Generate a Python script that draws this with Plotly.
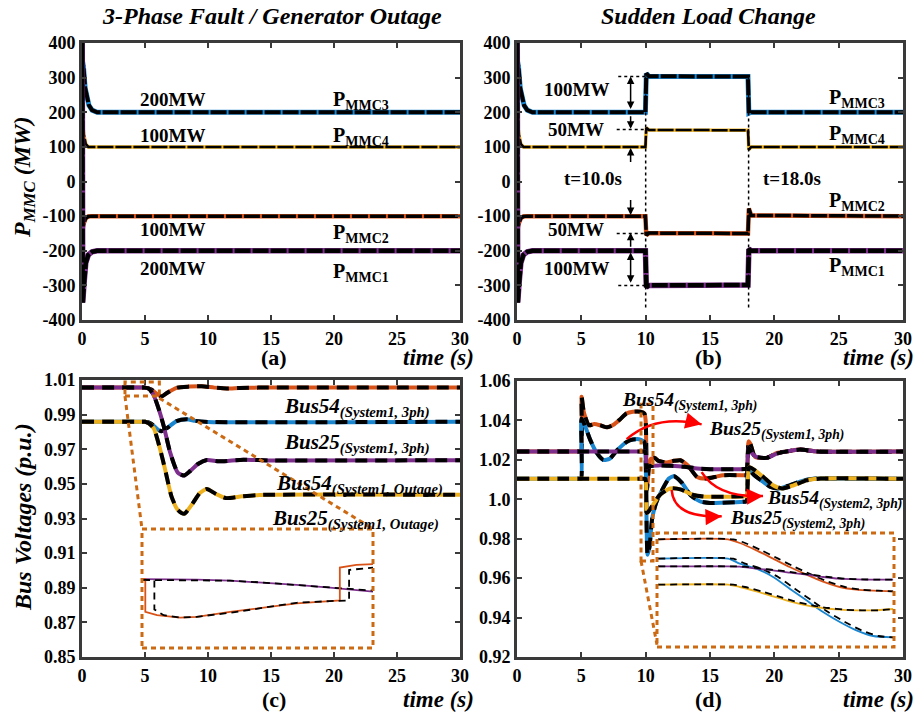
import plotly.graph_objects as go

# ---------------- (a) MMC power, 3-phase fault / generator outage ----------------
a_t3 = [0.0, 0.05, 0.12, 0.25, 0.4, 0.55, 0.8, 1.2, 30.0]
a_p3 = [0, 345, 330, 270, 240, 220, 206, 200, 200]
a_t4 = [0.0, 0.05, 0.15, 0.3, 0.5, 30.0]
a_p4 = [0, 165, 135, 108, 100, 100]
a_t2 = [0.0, 0.05, 0.15, 0.3, 0.5, 0.8, 30.0]
a_p2 = [0, -135, -120, -106, -101, -100, -100]
a_t1 = [0.0, 0.02, 0.06, 0.15, 0.3, 0.5, 0.8, 1.2, 30.0]
a_p1 = [0, 400, -350, -300, -235, -212, -203, -200, -200]

# ---------------- (b) MMC power, sudden load change ----------------
b_t3 = [0.0, 0.05, 0.12, 0.25, 0.4, 0.55, 0.8, 1.2, 9.98, 10.05, 10.25, 17.95, 18.02, 18.2, 30.0]
b_p3 = [0, 345, 330, 270, 240, 220, 206, 200, 200, 312, 304, 303, 197, 200, 200]
b_t4 = [0.0, 0.05, 0.15, 0.3, 0.5, 9.98, 10.05, 10.25, 17.95, 18.02, 18.2, 30.0]
b_p4 = [0, 165, 135, 108, 100, 100, 155, 149, 148, 92, 100, 100]
b_t2 = [0.0, 0.05, 0.15, 0.3, 0.5, 0.8, 9.98, 10.05, 10.25, 17.95, 18.02, 18.2, 30.0]
b_p2 = [0, -135, -120, -106, -101, -100, -100, -155, -149, -150, -78, -98, -100]
b_t1 = [0.0, 0.02, 0.06, 0.15, 0.3, 0.5, 0.8, 1.2, 9.98, 10.05, 10.25, 17.95, 18.02, 18.2, 30.0]
b_p1 = [0, 400, -350, -300, -235, -212, -203, -200, -200, -305, -300, -299, -195, -200, -200]

# ---------------- (c) bus voltages, fault / outage ----------------
c_t54 = [0, 4.7, 5.0, 5.5, 6.0, 6.3, 6.8, 7.5, 8.5, 9.5, 10.5, 11.5, 12.5, 14, 30]
c_v54 = [1.0056, 1.0056, 1.0056, 1.0045, 1.0016, 1.0005, 1.0028, 1.0055, 1.0062, 1.0064, 1.0056, 1.0051, 1.0054, 1.0056, 1.0056]
c_t25 = [0, 4.7, 5.0, 5.5, 6.0, 6.3, 6.8, 7.5, 8.3, 9.0, 10.0, 30]
c_v25 = [0.9859, 0.9859, 0.9859, 0.9848, 0.9815, 0.9804, 0.9825, 0.9862, 0.9873, 0.9864, 0.9858, 0.9859]
c_t54o = [0, 4.7, 5.0, 5.3, 5.7, 6.1, 6.5, 7.0, 7.6, 8.1, 8.6, 9.2, 9.9, 10.9, 12.8, 15, 30]
c_v54o = [1.0056, 1.0056, 1.0056, 1.0050, 1.0010, 0.9930, 0.9830, 0.9680, 0.9565, 0.9548, 0.9575, 0.9615, 0.9638, 0.9630, 0.9640, 0.9635, 0.9637]
c_t25o = [0, 4.7, 5.0, 5.3, 5.7, 6.2, 6.6, 7.1, 7.6, 8.1, 8.8, 9.35, 9.9, 10.6, 11.4, 12.7, 14.1, 30]
c_v25o = [0.9859, 0.9859, 0.9859, 0.9850, 0.9820, 0.9700, 0.9582, 0.9428, 0.9350, 0.9327, 0.9389, 0.9447, 0.9470, 0.9443, 0.9418, 0.9428, 0.9436, 0.9437]

# zoomed detail of (c): bus 54 around the fault instant
ic_t54 = [4.9806, 4.982, 4.982, 4.9891, 5.0032, 5.0132, 5.0334, 5.0535, 5.0737, 5.0938, 5.0999, 5.0999, 5.1099, 5.12]
ic_v54 = [1.00378, 1.00378, 1.00104, 1.00076, 1.00056, 1.00062, 1.00104, 1.00141, 1.00175, 1.00194, 1.00200, 1.00476, 1.00499, 1.00504]
ic_t54_emt = [4.9806, 4.9875, 4.9875, 4.9931, 5.0032, 5.0132, 5.0334, 5.0535, 5.0737, 5.0938, 5.1055, 5.1055, 5.1140, 5.12]
ic_v54_emt = [1.00372, 1.00372, 1.00124, 1.00076, 1.00056, 1.00062, 1.00096, 1.00141, 1.00180, 1.00194, 1.00200, 1.00456, 1.00470, 1.00476]
ic_t54o = [4.9806, 5.0132, 5.0334, 5.0535, 5.0737, 5.0938, 5.12]
ic_v54o = [1.00378, 1.00375, 1.00366, 1.00349, 1.00330, 1.00307, 1.00273]
ic_v54o_emt = [1.00372, 1.00372, 1.00366, 1.00350, 1.00330, 1.00305, 1.00282]

# ---------------- (d) bus voltages, sudden load change ----------------
d_t54 = [0, 4.8, 4.98, 5.02, 5.2, 5.6, 6.0, 6.5, 7.0, 7.5, 8.0, 8.5, 9.0, 9.6, 9.9, 10.0, 10.1, 10.25, 10.4, 10.7, 11.0,
         11.6, 12.2, 12.7, 13.3, 14.0, 14.7, 15.5, 16.0, 17.7, 17.85, 18.0, 18.15, 18.5, 19.4, 20.2, 21.0, 22.0, 23.3, 30]
d_v54 = [1.0242, 1.0242, 1.0242, 1.052, 1.044, 1.0375, 1.0382, 1.0375, 1.0365, 1.0378, 1.0405, 1.0435, 1.0444, 1.0444,
         1.0435, 1.040, 1.005, 1.016, 1.0205, 1.021, 1.0195, 1.0187, 1.0195, 1.0198, 1.017, 1.0113, 1.0105, 1.0115,
         1.0122, 1.0122, 1.0122, 1.0294, 1.028, 1.0215, 1.021, 1.0235, 1.0243, 1.0252, 1.0243, 1.0242]
d_t25 = [0, 4.8, 4.98, 5.02, 5.3, 5.7, 6.2, 6.7, 7.2, 7.8, 8.5, 9.0, 9.6, 9.9, 10.0, 10.15, 10.3, 10.5, 10.8, 11.3, 11.8,
         12.2, 12.8, 13.5, 14.2, 15.0, 17.0, 17.7, 17.85, 18.0, 18.4, 19.0, 19.7, 20.4, 21.2, 22.3, 23.3, 24.0, 30]
d_v25 = [1.0104, 1.0104, 1.0104, 1.041, 1.037, 1.030, 1.0235, 1.020, 1.0205, 1.025, 1.029, 1.0303, 1.0303, 1.029, 1.020,
         0.9718, 0.976, 0.990, 0.998, 1.005, 1.0105, 1.0117, 1.0085, 1.002, 0.9990, 0.9981, 0.9985, 0.9988, 0.9989,
         1.0150, 1.0125, 1.0095, 1.0063, 1.0055, 1.0071, 1.0096, 1.0105, 1.0106, 1.0104]
d_t54s2 = [0, 9.8, 9.98, 10.08, 10.3, 11.0, 12.0, 13.0, 14.0, 15.0, 17.7, 17.85, 18.0, 18.3, 18.6, 19.4, 20.2, 21.0,
           22.0, 23.3, 30]
d_v54s2 = [1.0242, 1.0242, 1.0242, 1.016, 1.0168, 1.0172, 1.017, 1.0165, 1.0156, 1.0152, 1.0153, 1.0153, 1.026, 1.023,
           1.0215, 1.021, 1.0232, 1.0243, 1.0252, 1.0243, 1.0242]
d_t25s2 = [0, 9.8, 9.98, 10.1, 10.3, 11.1, 11.9, 12.7, 13.7, 14.7, 16.3, 17.7, 17.85, 18.05, 18.5, 19.15, 19.9, 20.6,
           21.5, 22.5, 23.6, 30]
d_v25s2 = [1.0104, 1.0104, 1.0104, 0.993, 0.9945, 1.0022, 1.0055, 1.005, 1.0022, 1.0013, 1.0013, 1.0016, 1.0017, 1.0163,
           1.0147, 1.0113, 1.0071, 1.0055, 1.0071, 1.0096, 1.0105, 1.0104]

# zoomed detail of (d): first milliseconds after t = 10 s
id_t = [9.9606, 10.002, 10.0089, 10.0187, 10.0286, 10.0384, 10.0483, 10.0581, 10.068, 10.0778, 10.0877, 10.0995]
id_t_emt = [9.9606, 10.005, 10.012, 10.0217, 10.0316, 10.0414, 10.0513, 10.0611, 10.071, 10.0808, 10.0907, 10.0995]
id_v54 = [1.04486, 1.04486, 1.0442, 1.04288, 1.04138, 1.03988, 1.0385, 1.03724, 1.03628, 1.0358, 1.03562, 1.0355]
id_v25 = [1.04138, 1.04138, 1.04048, 1.03958, 1.03808, 1.03598, 1.03388, 1.03178, 1.02998, 1.02848, 1.02746, 1.0272]
id_v54s2 = [1.04, 1.04, 1.03994, 1.03958, 1.03928, 1.03886, 1.0385, 1.03808, 1.03778, 1.03766, 1.0376, 1.0376]
id_v25s2 = [1.0367, 1.0367, 1.03628, 1.0355, 1.0346, 1.0337, 1.03298, 1.0325, 1.0322, 1.03208, 1.03208, 1.03232]

# ---------------- tick labels ----------------
time_ticks = [0, 5, 10, 15, 20, 25, 30]
p_ticks = [400, 300, 200, 100, 0, -100, -200, -300, -400]
p_labels = ["400", "300", "200", "100", "0", "-100", "-200", "-300", "-400"]
vc_ticks = [0.85, 0.87, 0.89, 0.91, 0.93, 0.95, 0.97, 0.99, 1.01]
vc_labels = ["0.85", "0.87", "0.89", "0.91", "0.93", "0.95", "0.97", "0.99", "1.01"]
vd_ticks = [0.92, 0.94, 0.96, 0.98, 1.00, 1.02, 1.04, 1.06]
vd_labels = ["0.92", "0.94", "0.96", "0.98", "1.0", "1.02", "1.04", "1.06"]

# guide levels for the load-change annotations in (b)
b_levels = [303, 150, -150, -300]
b_events = [10.0, 18.0]

ORANGE = "#D95319"
BLUE = "#1A86D0"
PURPLE = "#7E2F8E"
YELLOW = "#EDB120"
FRAME = "#3a3a3a"
GUIDE = "#CC6A14"
SERIF = "Liberation Serif"

fig = go.Figure()


def pair(t, v, color, xa, ya, width, dash, shape="linear", cw=None):
    """Coloured reference trace with a black dashed trace on top."""
    fig.add_trace(go.Scatter(x=t, y=v, mode="lines", xaxis=xa, yaxis=ya, hoverinfo="skip",
                             line=dict(color=color, width=cw or width, shape=shape, smoothing=0.6)))
    fig.add_trace(go.Scatter(x=t, y=v, mode="lines", xaxis=xa, yaxis=ya, hoverinfo="skip",
                             line=dict(color="black", width=width, shape=shape, smoothing=0.6, dash=dash)))


def pair2(t, v, te, ve, color, xa, ya, width, dash, shape="linear"):
    fig.add_trace(go.Scatter(x=t, y=v, mode="lines", xaxis=xa, yaxis=ya, hoverinfo="skip",
                             line=dict(color=color, width=width, shape=shape, smoothing=0.6)))
    fig.add_trace(go.Scatter(x=te, y=ve, mode="lines", xaxis=xa, yaxis=ya, hoverinfo="skip",
                             line=dict(color="black", width=width, shape=shape, smoothing=0.6, dash=dash)))


noisy = "16px,2px"
# (a)
pair(a_t3, a_p3, BLUE, "x", "y", 4, noisy, cw=5)
pair(a_t4, a_p4, YELLOW, "x", "y", 2.5, noisy, cw=3.5)
pair(a_t2, a_p2, ORANGE, "x", "y", 3.5, noisy, cw=4.5)
pair(a_t1, a_p1, PURPLE, "x", "y", 4.5, noisy, cw=5.5)
# (b)
pair(b_t3, b_p3, BLUE, "x2", "y2", 4, noisy, cw=5)
pair(b_t4, b_p4, YELLOW, "x2", "y2", 2.5, noisy, cw=3.5)
pair(b_t2, b_p2, ORANGE, "x2", "y2", 3.5, noisy, cw=4.5)
pair(b_t1, b_p1, PURPLE, "x2", "y2", 4.5, noisy, cw=5.5)

vdash = "12px,8px"
# (c)
pair(c_t54, c_v54, ORANGE, "x3", "y3", 4, vdash, "spline")
pair(c_t25, c_v25, BLUE, "x3", "y3", 4, vdash, "spline")
pair(c_t54o, c_v54o, PURPLE, "x3", "y3", 4, vdash, "spline")
pair(c_t25o, c_v25o, YELLOW, "x3", "y3", 4, vdash, "spline")
# (d)
pair(d_t54, d_v54, ORANGE, "x4", "y4", 4, vdash, "spline")
pair(d_t25, d_v25, BLUE, "x4", "y4", 4, vdash, "spline")
pair(d_t54s2, d_v54s2, PURPLE, "x4", "y4", 4, vdash, "spline")
pair(d_t25s2, d_v25s2, YELLOW, "x4", "y4", 4, vdash, "spline")

# insets
idash = "7px,5px"
pair2(ic_t54o, ic_v54o, ic_t54o, ic_v54o_emt, PURPLE, "x5", "y5", 1.8, idash)
pair2(ic_t54, ic_v54, ic_t54_emt, ic_v54_emt, ORANGE, "x5", "y5", 1.8, idash)
for v, c in [(id_v54, ORANGE), (id_v25, BLUE), (id_v54s2, PURPLE), (id_v25s2, YELLOW)]:
    pair2(id_t, v, id_t_emt, v, c, "x6", "y6", 1.8, idash, "spline")

# ---------------- axes ----------------
def xdom(l, r):
    return [l / 920, r / 920]


def ydom(top, bottom):
    return [1 - bottom / 712, 1 - top / 712]


tickfont = dict(family=SERIF, size=18, color="black", weight="bold")
common = dict(showline=True, linewidth=3, linecolor=FRAME, mirror="ticks", ticks="inside",
              ticklen=5, tickwidth=2, tickcolor=FRAME, showgrid=False, zeroline=False,
              tickfont=tickfont, fixedrange=True, automargin=False)

layout_axes = {}
for i, (xd, yd, yt, yl, yr) in enumerate([
        (xdom(82, 460), ydom(43, 320), p_ticks, p_labels, [-400, 400]),
        (xdom(517, 903), ydom(43, 320), p_ticks, p_labels, [-400, 400]),
        (xdom(82, 460), ydom(380, 657), vc_ticks, vc_labels, [0.85, 1.01]),
        (xdom(517, 903), ydom(381, 657), vd_ticks, vd_labels, [0.92, 1.06])], start=1):
    sfx = "" if i == 1 else str(i)
    layout_axes["xaxis" + sfx] = dict(domain=xd, anchor="y" + sfx, range=[0, 30], tickvals=time_ticks,
                                      ticktext=[str(t) for t in time_ticks], **common)
    layout_axes["yaxis" + sfx] = dict(domain=yd, anchor="x" + sfx, range=yr, tickvals=yt,
                                      ticktext=yl, **common)

hidden = dict(visible=False, fixedrange=True, automargin=False)
layout_axes["xaxis5"] = dict(domain=xdom(142, 373), anchor="y5", range=[4.98, 5.12], **hidden)
layout_axes["yaxis5"] = dict(domain=ydom(529, 648), anchor="x5", range=[0.998, 1.008], **hidden)
layout_axes["xaxis6"] = dict(domain=xdom(657, 894), anchor="y6", range=[9.96, 10.10], **hidden)
layout_axes["yaxis6"] = dict(domain=ydom(533, 647), anchor="x6", range=[1.02548, 1.046], **hidden)

fig.update_layout(width=920, height=712, margin=dict(l=0, r=0, t=0, b=0, autoexpand=False), autosize=False,
                  paper_bgcolor="white", plot_bgcolor="rgba(0,0,0,0)", showlegend=False,
                  hovermode=False, **layout_axes)

# ---------------- text ----------------
ann = []


def txt(text, x, y, xref="paper", yref="paper", size=19, xanchor="center", yanchor="middle", angle=0):
    ann.append(dict(text=text, x=x, y=y, xref=xref, yref=yref, showarrow=False, xanchor=xanchor,
                    yanchor=yanchor, textangle=angle, font=dict(family=SERIF, size=size, color="black")))


def px(x, y):
    return x / 920, 1 - y / 712


txt("<b><i>3-Phase Fault / Generator Outage</i></b>", *px(272, 16), size=24)
txt("<b><i>Sudden Load Change</i></b>", *px(708, 16), size=24)
txt("<b><i>P<sub>MMC</sub> (MW)</i></b>", *px(24, 178), size=24, angle=-90)
txt("<b><i>Bus Voltages (p.u.)</i></b>", *px(23, 517), size=24, angle=-90)
for lab, cx, cy in [("(a)", 274, 358), ("(b)", 708, 358), ("(c)", 274, 699), ("(d)", 708, 699)]:
    txt("<b>" + lab + "</b>", *px(cx, cy), size=22)
for cx, cy in [(438, 358), (878, 358), (438, 699), (878, 699)]:
    txt("<b><i>time (s)</i></b>", *px(cx, cy), size=23)

# (a)
for lab, x, y in [("200MW", 7.18, 238), ("100MW", 7.18, 134), ("100MW", 7.18, -140), ("200MW", 7.18, -250)]:
    txt("<b>" + lab + "</b>", x, y, "x", "y")
for n, y in [("3", 235), ("4", 131), ("2", -149), ("1", -262)]:
    txt("<b>P<sub>MMC" + n + "</sub></b>", 19.8, y, "x", "y", size=20, xanchor="left")
# (b)
for lab, x, y in [("100MW", 4.6, 266), ("50MW", 4.6, 149), ("50MW", 4.6, -139), ("100MW", 4.6, -251),
                  ("t=10.0s", 5.93, 10), ("t=18.0s", 21.35, 10)]:
    txt("<b>" + lab + "</b>", x, y, "x2", "y2")
for n, y in [("3", 241), ("4", 135), ("2", -57), ("1", -245)]:
    txt("<b>P<sub>MMC" + n + "</sub></b>", 24.07, y, "x2", "y2", size=20, xanchor="left")
# (c)
for main, sub, x, y in [("Bus54", "(System1, 3ph)", 15.85, 0.9942), ("Bus25", "(System1, 3ph)", 15.85, 0.9733),
                        ("Bus54", "(System1, Outage)", 15.2, 0.9495), ("Bus25", "(System1, Outage)", 14.9, 0.9292)]:
    txt("<b><i>" + main + "<sub>" + sub + "</sub></i></b>", x, y, "x3", "y3", size=21, xanchor="left")
# (d)
for main, sub, x, y in [("Bus54", "(System1, 3ph)", 8.0, 1.0497), ("Bus25", "(System1, 3ph)", 14.74, 1.0347),
                        ("Bus54", "(System2, 3ph)", 19.27, 0.9997), ("Bus25", "(System2, 3ph)", 16.42, 0.9897)]:
    txt("<b><i>" + main + "<sub>" + sub + "</sub></i></b>", x, y, "x4", "y4", size=19.5, xanchor="left")

# arrows in (b)
arrow_x = 8.83
for head, tail, both in [(303, 205, True), (152, 193, False), (97, 52, False), (-97, -49, False),
                         (-148, -193, False), (-205, -297, True)]:
    ann.append(dict(x=arrow_x, y=head, ax=arrow_x, ay=tail, xref="x2", yref="y2", axref="x2", ayref="y2",
                    text="", showarrow=True, arrowhead=2, arrowsize=1, arrowwidth=1.5, arrowcolor="black",
                    arrowside="end+start" if both else "end", standoff=0, startstandoff=0))

# red curved arrows in (d)
red_paths = [((8.52, 1.0305), (10.79, 1.0434), (14.35, 1.038)),
             ((14.35, 1.0138), (15.6, 1.0006), (19.12, 1.0017)),
             ((12.02, 1.0047), (12.16, 0.99035), (15.91, 0.99135))]
shapes = []
for s, c, e in red_paths:
    shapes.append(dict(type="path", xref="x4", yref="y4",
                       path=f"M {s[0]},{s[1]} Q {c[0]},{c[1]} {e[0]},{e[1]}",
                       line=dict(color="red", width=2.5)))
    # head direction from the control point (converted to pixels)
    dx = (e[0] - c[0]) * 12.867
    dy = -(e[1] - c[1]) / 0.0005
    norm = (dx * dx + dy * dy) ** 0.5
    ann.append(dict(x=e[0], y=e[1], xref="x4", yref="y4", ax=-dx / norm * 12, ay=-dy / norm * 12,
                    text="", showarrow=True, arrowhead=2, arrowsize=1.3, arrowwidth=2.5, arrowcolor="red",
                    standoff=0))

# dotted guides in (b)
guide_dot = dict(color="black", width=1.5, dash="3px,3px")
for lvl, x0 in zip(b_levels, [7.87, 7.75, 7.75, 7.87]):
    shapes.append(dict(type="line", xref="x2", yref="y2", x0=x0, x1=9.95, y0=lvl, y1=lvl, line=guide_dot))
for ev in b_events:
    shapes.append(dict(type="line", xref="x2", yref="y2", x0=ev, x1=ev, y0=b_levels[0], y1=-372, line=guide_dot))

# zoom boxes
zoom_line = dict(color=GUIDE, width=3, dash="5px,4px")
shapes += [
    dict(type="rect", xref="x3", yref="y3", x0=3.41, x1=6.14, y0=1.0007, y1=1.0088, line=zoom_line),
    dict(type="line", xref="x3", yref="y3", x0=3.41, y0=1.0007, x1=4.76, y1=0.924, line=zoom_line),
    dict(type="line", xref="x3", yref="y3", x0=6.14, y0=0.9995, x1=23.1, y1=0.924, line=zoom_line),
    dict(type="rect", xref="x5 domain", yref="y5 domain", x0=0, x1=1, y0=0, y1=1, line=zoom_line),
    dict(type="rect", xref="x4", yref="y4", x0=9.64, x1=10.57, y0=0.9687, y1=1.0482, line=zoom_line),
    dict(type="line", xref="x4", yref="y4", x0=9.64, y0=0.9687, x1=10.88, y1=0.9262, line=zoom_line),
    dict(type="rect", xref="x6 domain", yref="y6 domain", x0=0, x1=1, y0=0, y1=1, line=zoom_line),
]

fig.update_layout(annotations=ann, shapes=shapes)
fig.write_html("out.html")
